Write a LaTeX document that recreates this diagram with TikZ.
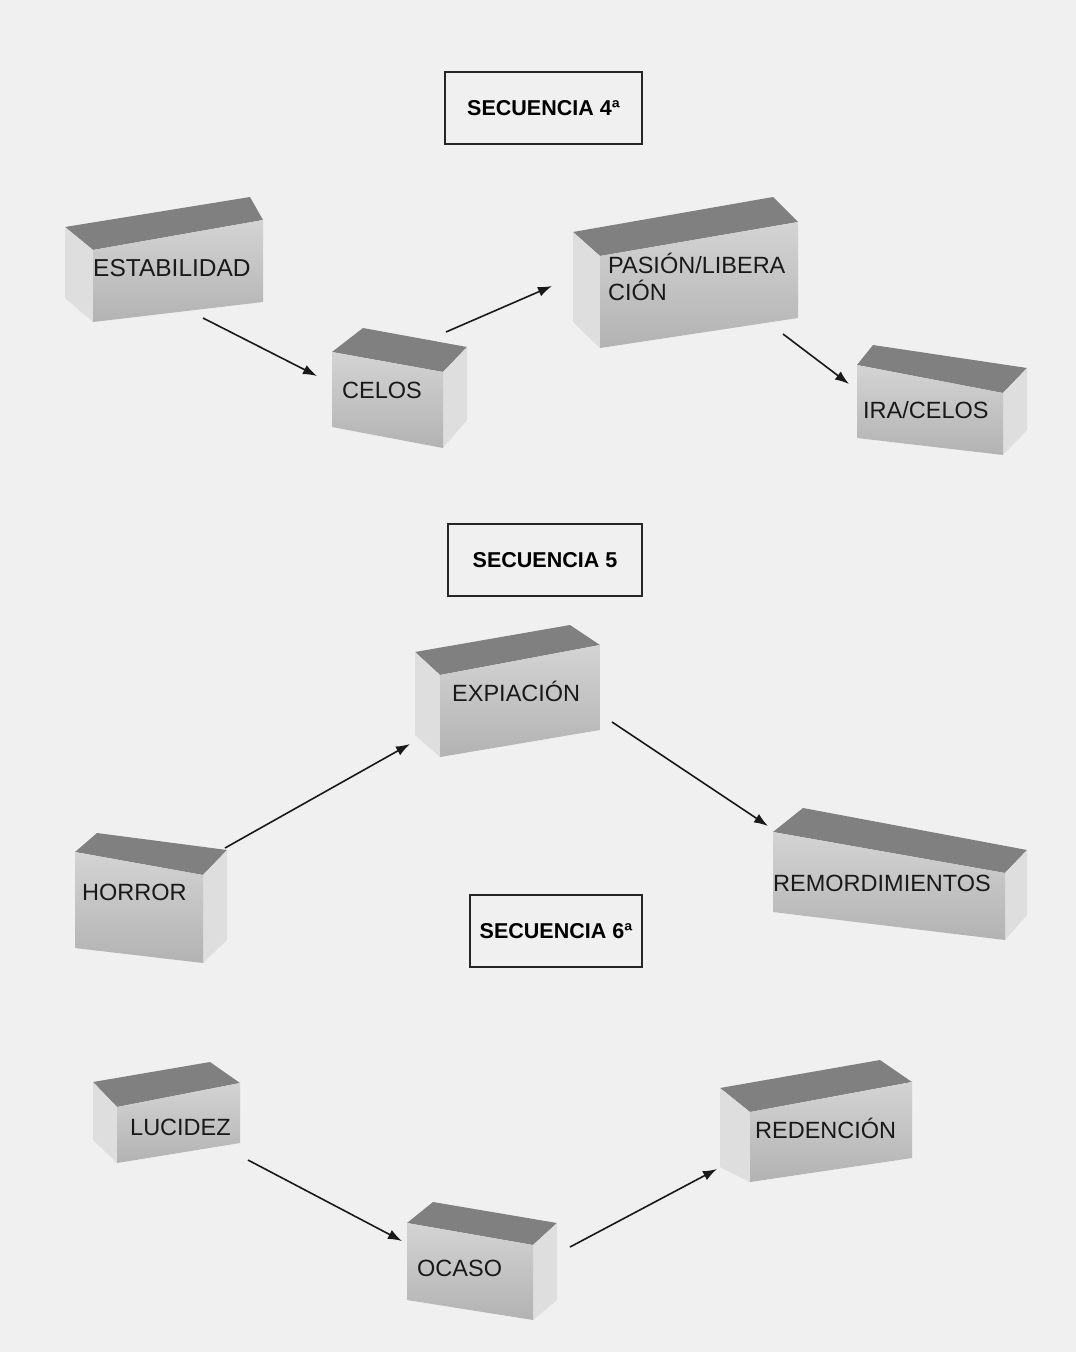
\documentclass[tikz,border=0pt]{standalone}
\usepackage{fontspec}
\setmainfont{Liberation Sans}
\usetikzlibrary{arrows.meta}
\begin{document}
\begin{tikzpicture}[x=1pt,y=-1pt,
  topf/.style={fill=black!50},
  sidef/.style={fill=black!13},
  frontf/.style={top color=black!17, bottom color=black!30},
  lbl/.style={anchor=base west, inner sep=0pt, font=\fontsize{23.5}{28}\selectfont, text=black!90},
  lbl2/.style={anchor=north west, inner sep=0pt, align=left, font=\fontsize{23.5}{27}\selectfont, text=black!90},
  titlebox/.style={draw=black!85, line width=1.7pt, minimum width=#1, minimum height=72pt, inner sep=0pt, font=\bfseries\fontsize{21.5}{25}\selectfont},
  conn/.style={-{Latex[length=14pt,width=10pt]}, line width=1.6pt, black!90}]
\useasboundingbox (0,0) rectangle (1076,1352);
\fill[black!6] (0,0) rectangle (1076,1352);

% titles
\node[titlebox=197pt] (t4) at (543.5,108) {SECUENCIA 4ª};
\node[titlebox=194pt] (t5) at (545,560) {SECUENCIA 5};
\node[titlebox=172pt] (t6) at (556,931) {SECUENCIA 6ª};

% ESTABILIDAD (left view)
\fill[topf] (65,227) -- (250,197) -- (263,220) -- (93,250) -- cycle;
\fill[sidef] (65,227) -- (93,250) -- (93,322) -- (65,298) -- cycle;
\shade[frontf] (93,250) -- (263,220) -- (263,302) -- (93,322) -- cycle;
\node[lbl, font=\fontsize{24.5}{28}\selectfont] (estab) at (93,276.5) {ESTABILIDAD};

% CELOS (right view)
\fill[topf] (332,352) -- (363,328) -- (467,347) -- (443,372) -- cycle;
\fill[sidef] (443,372) -- (467,347) -- (467,420) -- (443,448) -- cycle;
\shade[frontf] (332,352) -- (443,372) -- (443,448) -- (332,427) -- cycle;
\node[lbl] (celos) at (342,398.5) {CELOS};

% PASION/LIBERACION (left view)
\fill[topf] (573,232) -- (773,197) -- (798,222) -- (600,256) -- cycle;
\fill[sidef] (573,232) -- (600,256) -- (600,348) -- (573,322) -- cycle;
\shade[frontf] (600,256) -- (798,222) -- (798,318) -- (600,348) -- cycle;
\node[lbl2] (pasion) at (608,253) {PASIÓN/LIBERA\\CIÓN};

% IRA/CELOS (right view)
\fill[topf] (857,365) -- (873,345) -- (1027,368) -- (1003,393) -- cycle;
\fill[sidef] (1003,393) -- (1027,368) -- (1027,430) -- (1003,455) -- cycle;
\shade[frontf] (857,365) -- (1003,393) -- (1003,455) -- (857,438) -- cycle;
\node[lbl] (ira) at (863,418.5) {IRA/CELOS};

% EXPIACION (left view)
\fill[topf] (415,652) -- (570,625) -- (600,645) -- (440,675) -- cycle;
\fill[sidef] (415,652) -- (440,675) -- (440,757) -- (415,735) -- cycle;
\shade[frontf] (440,675) -- (600,645) -- (600,730) -- (440,757) -- cycle;
\node[lbl] (expia) at (452,701.5) {EXPIACIÓN};

% HORROR (right view)
\fill[topf] (75,852) -- (97,833) -- (227,850) -- (203,875) -- cycle;
\fill[sidef] (203,875) -- (227,850) -- (227,940) -- (203,963) -- cycle;
\shade[frontf] (75,852) -- (203,875) -- (203,963) -- (75,948) -- cycle;
\node[lbl] (horror) at (82,900.5) {HORROR};

% REMORDIMIENTOS (right view)
\fill[topf] (773,832) -- (803,808) -- (1027,850) -- (1005,873) -- cycle;
\fill[sidef] (1005,873) -- (1027,850) -- (1027,915) -- (1005,940) -- cycle;
\shade[frontf] (773,832) -- (1005,873) -- (1005,940) -- (773,912) -- cycle;
\node[lbl] (remord) at (773,891.5) {REMORDIMIENTOS};

% LUCIDEZ (left view)
\fill[topf] (93,1082) -- (210,1062) -- (240,1083) -- (117,1107) -- cycle;
\fill[sidef] (93,1082) -- (117,1107) -- (117,1163) -- (93,1140) -- cycle;
\shade[frontf] (117,1107) -- (240,1083) -- (240,1143) -- (117,1163) -- cycle;
\node[lbl] (lucidez) at (130,1135.5) {LUCIDEZ};

% OCASO (right view)
\fill[topf] (407,1223) -- (433,1202) -- (557,1223) -- (533,1245) -- cycle;
\fill[sidef] (533,1245) -- (557,1223) -- (557,1300) -- (533,1320) -- cycle;
\shade[frontf] (407,1223) -- (533,1245) -- (533,1320) -- (407,1300) -- cycle;
\node[lbl] (ocaso) at (417,1276.5) {OCASO};

% REDENCION (left view)
\fill[topf] (720,1088) -- (880,1060) -- (912,1082) -- (750,1112) -- cycle;
\fill[sidef] (720,1088) -- (750,1112) -- (750,1182) -- (720,1167) -- cycle;
\shade[frontf] (750,1112) -- (912,1082) -- (912,1158) -- (750,1182) -- cycle;
\node[lbl] (reden) at (755,1138.5) {REDENCIÓN};

% connector end points
\coordinate (a1s) at (203,318); \coordinate (a1e) at (317,376);
\coordinate (a2s) at (446,332); \coordinate (a2e) at (552,286);
\coordinate (a3s) at (783,334); \coordinate (a3e) at (849,384);
\coordinate (a4s) at (225,848); \coordinate (a4e) at (410,744);
\coordinate (a5s) at (612,722); \coordinate (a5e) at (768,826);
\coordinate (a6s) at (248,1160); \coordinate (a6e) at (402,1241);
\coordinate (a7s) at (570,1247); \coordinate (a7e) at (717,1169);

\draw[conn] (a1s) -- (a1e);
\draw[conn] (a2s) -- (a2e);
\draw[conn] (a3s) -- (a3e);
\draw[conn] (a4s) -- (a4e);
\draw[conn] (a5s) -- (a5e);
\draw[conn] (a6s) -- (a6e);
\draw[conn] (a7s) -- (a7e);
\end{tikzpicture}
\end{document}
